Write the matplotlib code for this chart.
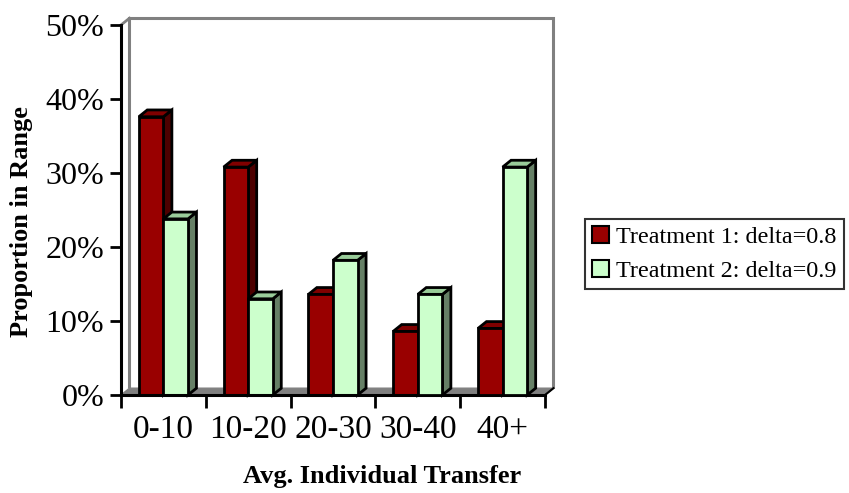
import matplotlib
matplotlib.use("Agg")
import matplotlib.pyplot as plt
from matplotlib.patches import Polygon, Patch
from matplotlib.ticker import FuncFormatter

plt.rcParams['font.family'] = ['Liberation Serif', 'DejaVu Serif']

categories = ["0-10", "10-20", "20-30", "30-40", "40+"]
treat1 = [0.376, 0.308, 0.136, 0.086, 0.090]
treat2 = [0.238, 0.130, 0.182, 0.136, 0.308]
labels = ["Treatment 1: delta=0.8", "Treatment 2: delta=0.9"]

RED = ("#990000", "#4d0000", "#800000")     # front, side, top
GRN = ("#ccffcc", "#668066", "#99cc99")

DX = 0.10     # depth offset in category units
DY = 0.0092   # depth offset in y units
BW = 0.29

fig = plt.figure(figsize=(8.49, 4.93), dpi=100)
ax = fig.add_axes([121 / 849, 98 / 493, 424 / 849, 370 / 493])
ax.set_xlim(0, 5)
ax.set_ylim(0, 0.5)
for s in ["top", "right"]:
    ax.spines[s].set_visible(False)
for s in ["left", "bottom"]:
    ax.spines[s].set_linewidth(2.2)
    ax.spines[s].set_zorder(10)

# back wall and floor
wall = Polygon([(DX, DY), (DX, 0.5 + DY), (5 + DX, 0.5 + DY), (5 + DX, DY)],
               closed=False, fill=False, edgecolor="#808080", lw=2.2, clip_on=False, zorder=1)
ax.add_patch(wall)
ax.plot([0, DX], [0.5, 0.5 + DY], color="#808080", lw=2, clip_on=False, zorder=1)
floor = Polygon([(0, 0), (5, 0), (5 + DX, DY), (DX, DY)], closed=True,
                facecolor="#808080", edgecolor="#808080", lw=1, clip_on=False, zorder=2)
ax.add_patch(floor)
ax.plot([5, 5 + DX], [0, DY], color="black", lw=1.5, clip_on=False, zorder=3)


def bar3d(x0, h, cols, z):
    x1 = x0 + BW
    kw = dict(edgecolor="black", lw=2, clip_on=False, zorder=z, joinstyle="miter")
    ax.add_patch(Polygon([(x1, 0), (x1 + DX, DY), (x1 + DX, h + DY), (x1, h)], facecolor=cols[1], **kw))
    ax.add_patch(Polygon([(x0, h), (x1, h), (x1 + DX, h + DY), (x0 + DX, h + DY)], facecolor=cols[2], **kw))
    ax.add_patch(Polygon([(x0, 0), (x1, 0), (x1, h), (x0, h)], facecolor=cols[0], **kw))


for i in range(len(categories)):
    c = i + 0.5
    bar3d(c - BW, treat1[i], RED, 4 + 2 * i)
    bar3d(c, treat2[i], GRN, 5 + 2 * i)

ax.set_xticks(range(6))
ax.set_xticklabels([])
ax.set_xticks([i + 0.5 for i in range(5)], minor=True)
ax.set_xticklabels(categories, minor=True, fontsize=24)
ax.tick_params(axis="x", which="major", direction="out", length=9, width=2)
ax.tick_params(axis="x", which="minor", length=0, pad=14)
ax.set_yticks([0, 0.1, 0.2, 0.3, 0.4, 0.5])
ax.yaxis.set_major_formatter(FuncFormatter(lambda v, p: "%d%%" % round(v * 100)))
ax.tick_params(axis="y", direction="out", length=8, width=2, labelsize=23, pad=4)

fig.text(382 / 849, 1 - 477 / 493, "Avg. Individual Transfer", fontsize=19,
         fontweight="bold", ha="center", va="center")
fig.text(22 / 849, 1 - 222 / 493, "Proportion in Range", fontsize=19,
         fontweight="bold", ha="center", va="center", rotation=90)

handles = [Patch(facecolor=RED[0], edgecolor="black", lw=1.5),
           Patch(facecolor=GRN[0], edgecolor="black", lw=1.5)]
leg = fig.legend(handles, labels, loc="center left", bbox_to_anchor=(585 / 849, 1 - 254 / 493),
                 fontsize=17.4, frameon=True, fancybox=False, handlelength=0.7, handleheight=0.7,
                 handletextpad=0.3, borderpad=0.3, labelspacing=0.5, borderaxespad=0)
leg.get_frame().set_edgecolor("black")
leg.get_frame().set_linewidth(1.5)

fig.savefig("out.png", dpi=100)
